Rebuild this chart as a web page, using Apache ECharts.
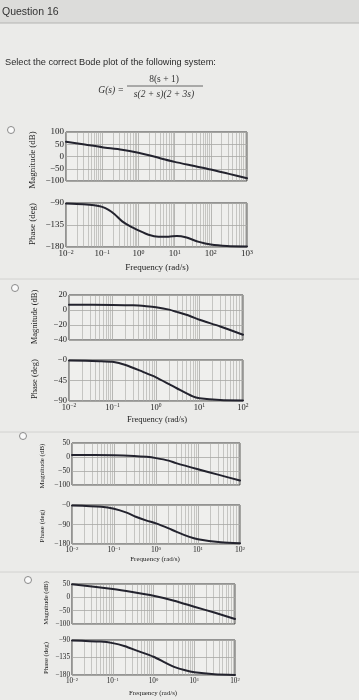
<!DOCTYPE html>
<html>
<head>
<meta charset="utf-8">
<script src="https://cdn.jsdelivr.net/npm/echarts@6/dist/echarts.min.js"></script>
<style>
html,body{margin:0;padding:0;background:#ebebe9;}
#c{width:359px;height:700px;}
</style>
</head>
<body>
<div id="c"></div>
<script>
// ---- data ----
// Option 1 (10^-2 .. 10^3)
const w1m = [0.01, 0.033, 0.1, 0.35, 1, 3.6, 10, 30, 100, 300, 1000];
const mag1 = [60, 49, 38, 28, 15, -5, -22, -37, -53, -70, -89];
const w1p = [0.01, 0.03, 0.06, 0.1, 0.15, 0.22, 0.35, 0.6, 1, 1.9, 3.6, 6.8, 11.6, 20, 47, 100, 280, 1000];
const ph1 = [-91, -92.5, -94.5, -98, -104, -113, -127, -138, -146, -155, -159, -159, -157.5, -160, -169.5, -175, -178, -179];
// Option 2 (10^-2 .. 10^2)
const w2m = [0.01, 0.1, 0.3, 0.6, 1, 2, 3, 6, 10, 30, 100];
const mag2 = [7, 6.8, 6.3, 5, 3.6, 0.5, -2.5, -8, -13, -22, -33];
const w2p = [0.01, 0.05, 0.1, 0.2, 0.5, 1, 2, 3, 7, 10, 30, 100];
const ph2 = [-1, -2.5, -4, -11, -26, -38, -53, -62, -80, -84, -88, -89];
// Option 3
const w3m = [0.01, 0.1, 0.3, 0.6, 1, 2, 3, 10, 30, 100];
const mag3 = [7, 6.5, 4, 0.5, -4, -13, -22, -44, -63, -84];
const w3p = [0.01, 0.05, 0.1, 0.2, 0.33, 0.6, 1, 2, 3, 6, 10, 35, 100];
const ph3 = [-2, -8, -17, -35, -54, -72, -85, -108, -123, -146, -158, -172, -177];
// Option 4
const w4m = [0.01, 0.1, 0.3, 1, 3.2, 10, 31, 100];
const mag4 = [49, 31, 20, 6, -12.5, -35, -57, -81];
const w4p = [0.01, 0.05, 0.1, 0.2, 0.36, 1, 2, 3.2, 6, 10, 31, 100];
const ph4 = [-91, -94, -98, -106, -116, -133, -149, -159, -168, -173, -178, -180];

// axis ticks: [min, max, interval]
const magTicks1 = [-100, 100, 50];
const phTicks1 = [-180, -90, 45];
const magTicks2 = [-40, 20, 20];
const phTicks2 = [-90, 0, 45];
const magTicks3 = [-100, 50, 50];
const phTicks3 = [-180, 0, 90];
const magTicks4 = [-100, 50, 50];
const phTicks4 = [-180, -90, 45];
const minorMult = [2, 3, 4, 5, 6, 7, 8, 9];

const texts = {
  header: 'Question 16',
  prompt: 'Select the correct Bode plot of the following system:',
  gs: 'G(s) =',
  num: '8(s + 1)',
  den: 's(2 + s)(2 + 3s)',
  mag: 'Magnitude (dB)',
  ph: 'Phase (deg)',
  freq: 'Frequency (rad/s)'
};

// ---- layout ----
const plots = [
  {mag:{left:66,top:132,width:181,height:49}, ph:{left:66,top:203,width:181,height:44}, xmax:1000,
   wm:w1m, m:mag1, wp:w1p, p:ph1, mt:magTicks1, pt:phTicks1, fs:9, tfs:9, title:[157,268], names:[33,160,33,224], radio:[11,130]},
  {mag:{left:69,top:295,width:174,height:45}, ph:{left:69,top:360,width:174,height:41}, xmax:100,
   wm:w2m, m:mag2, wp:w2p, p:ph2, mt:magTicks2, pt:phTicks2, fs:8.5, tfs:8.5, title:[157,420], names:[35,317,35,379], radio:[15,288]},
  {mag:{left:72,top:443,width:168,height:42}, ph:{left:72,top:505,width:168,height:39}, xmax:100,
   wm:w3m, m:mag3, wp:w3p, p:ph3, mt:magTicks3, pt:phTicks3, fs:7.6, tfs:7, title:[155,559], names:[42,466,42,526], radio:[23,436]},
  {mag:{left:72,top:584,width:163,height:40}, ph:{left:72,top:640,width:163,height:35}, xmax:100,
   wm:w4m, m:mag4, wp:w4p, p:ph4, mt:magTicks4, pt:phTicks4, fs:7.2, tfs:6.8, title:[153,693], names:[46,603,46,658], radio:[28,580]}
];

const grids = [], xAxes = [], yAxes = [], series = [];
const serif = 'Liberation Serif';
const gridColor = '#a8a8a5';
const curveColor = '#23232e';

function minorLines(xmax) {
  const out = [];
  const e1 = Math.round(Math.log10(xmax));
  for (let e = -2; e < e1; e++) for (const m of minorMult) out.push({xAxis: m * Math.pow(10, e)});
  return out;
}
function fmtMag(v) {
  return v < 0 ? '\u2212' + Math.abs(v) : String(v);
}
function fmtPh(v) {
  if (v === 0) return '\u22120';
  return v < 0 ? '\u2212' + Math.abs(v) : String(v);
}

plots.forEach((P, k) => {
  ['mag', 'ph'].forEach((kind, j) => {
    const idx = grids.length;
    const g = P[kind];
    grids.push(Object.assign({show: true, borderColor: '#3a3a3a', borderWidth: 1, backgroundColor: '#efefed'}, g));
    xAxes.push({
      type: 'log', logBase: 10, gridIndex: idx, min: 0.01, max: P.xmax,
      axisLine: {show: false}, axisTick: {show: false},
      splitLine: {show: true, lineStyle: {color: gridColor, width: 0.8}},
      axisLabel: {
        show: kind === 'ph', margin: 2, color: '#222',
        formatter: v => '{b|10}{e|' + String(Math.round(Math.log10(v))).replace('-', '\u2212') + '}',
        rich: {
          b: {fontFamily: serif, fontSize: P.fs, color: '#222', lineHeight: P.fs + 1},
          e: {fontFamily: serif, fontSize: P.fs * 0.65, color: '#222', verticalAlign: 'top', lineHeight: P.fs * 0.7}
        }
      }
    });
    const t = kind === 'mag' ? P.mt : P.pt;
    yAxes.push({
      type: 'value', gridIndex: idx, min: t[0], max: t[1], interval: t[2],
      axisLine: {show: false}, axisTick: {show: false},
      splitLine: {show: true, lineStyle: {color: gridColor, width: 0.8}},
      axisLabel: {margin: 2, color: '#222', fontFamily: serif, fontSize: P.fs, formatter: kind === 'mag' ? fmtMag : fmtPh}
    });
    const ws = kind === 'mag' ? P.wm : P.wp;
    const vs = kind === 'mag' ? P.m : P.p;
    // minor log grid (behind the curve)
    series.push({
      type: 'line', xAxisIndex: idx, yAxisIndex: idx, data: [], z: 1, silent: true,
      markLine: {
        silent: true, symbol: ['none', 'none'], label: {show: false}, z: 1,
        lineStyle: {color: gridColor, width: 0.6, type: 'solid'},
        data: minorLines(P.xmax), animation: false
      }
    });
    series.push({
      type: 'line', xAxisIndex: idx, yAxisIndex: idx, smooth: 0.25, showSymbol: false,
      data: ws.map((w, i) => [w, vs[i]]),
      lineStyle: {color: curveColor, width: 2, cap: 'round', join: 'round'},
      z: 10
    });
  });
});

// ---- decorations / text ----
const graphic = [
  {type: 'rect', shape: {x: 0, y: 0, width: 359, height: 23}, style: {fill: '#dcdcda'}},
  {type: 'line', shape: {x1: 0, y1: 23, x2: 359, y2: 23}, style: {stroke: '#b4b4b2', lineWidth: 1}},
  {type: 'text', x: 2, y: 12, style: {text: texts.header, fontFamily: 'Liberation Sans', fontSize: 10.5, fill: '#333', verticalAlign: 'middle'}},
  {type: 'text', x: 5, y: 62, style: {text: texts.prompt, fontFamily: 'Liberation Sans', fontSize: 9.2, fill: '#2a2a2a', verticalAlign: 'middle'}},
  {type: 'text', x: 124, y: 90, style: {text: texts.gs, fontFamily: serif, fontStyle: 'italic', fontSize: 9.5, fill: '#333', align: 'right', verticalAlign: 'middle'}},
  {type: 'text', x: 164, y: 79, style: {text: texts.num, fontFamily: serif, fontSize: 9.5, fill: '#333', align: 'center', verticalAlign: 'middle'}},
  {type: 'line', shape: {x1: 127, y1: 86, x2: 203, y2: 86}, style: {stroke: '#444', lineWidth: 0.8}},
  {type: 'text', x: 164, y: 94, style: {text: texts.den, fontFamily: serif, fontStyle: 'italic', fontSize: 9.5, fill: '#333', align: 'center', verticalAlign: 'middle'}},
  {type: 'line', shape: {x1: 0, y1: 279, x2: 359, y2: 279}, style: {stroke: '#d2d2d0', lineWidth: 1}},
  {type: 'line', shape: {x1: 0, y1: 432, x2: 359, y2: 432}, style: {stroke: '#d2d2d0', lineWidth: 1}},
  {type: 'line', shape: {x1: 0, y1: 572, x2: 359, y2: 572}, style: {stroke: '#d2d2d0', lineWidth: 1}}
];
plots.forEach(P => {
  graphic.push({type: 'circle', shape: {cx: P.radio[0], cy: P.radio[1], r: 3.5}, style: {fill: '#fafafa', stroke: '#8a8a8a', lineWidth: 1}});
  graphic.push({type: 'text', x: P.title[0], y: P.title[1], style: {text: texts.freq, fontFamily: serif, fontSize: P.tfs, fill: '#222', align: 'center', verticalAlign: 'middle'}});
  graphic.push({type: 'text', x: P.names[0], y: P.names[1], rotation: Math.PI / 2, style: {text: texts.mag, fontFamily: serif, fontSize: P.tfs, fill: '#222', align: 'center', verticalAlign: 'middle'}});
  graphic.push({type: 'text', x: P.names[2], y: P.names[3], rotation: Math.PI / 2, style: {text: texts.ph, fontFamily: serif, fontSize: P.tfs, fill: '#222', align: 'center', verticalAlign: 'middle'}});
});

const chart = echarts.init(document.getElementById('c'), null, {renderer: 'canvas'});
chart.setOption({
  animation: false,
  backgroundColor: '#ebebe9',
  grid: grids, xAxis: xAxes, yAxis: yAxes, series: series, graphic: graphic
});
</script>
</body>
</html>
